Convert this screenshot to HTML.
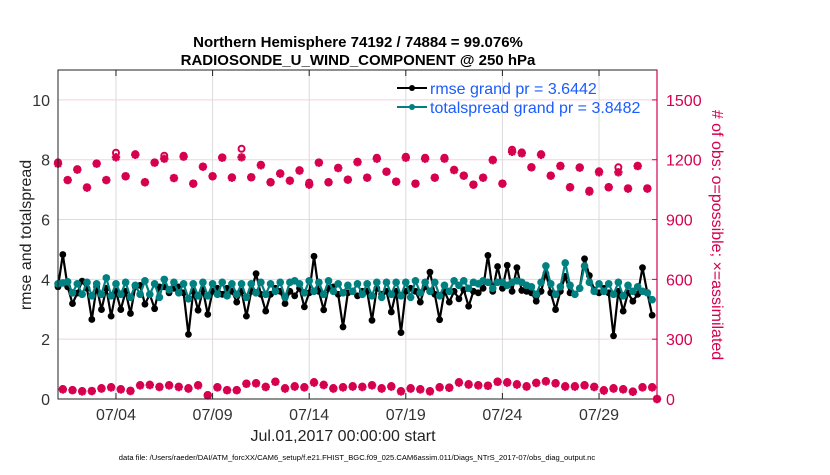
<!DOCTYPE html>
<html><head><meta charset="utf-8"><style>
body{margin:0;background:#fff;width:830px;height:470px;overflow:hidden;font-family:"Liberation Sans",sans-serif}
svg text{font-family:"Liberation Sans",sans-serif}
</style></head><body>
<svg id="chart" width="830" height="470" viewBox="0 0 830 470" xmlns="http://www.w3.org/2000/svg">
<rect x="0" y="0" width="830" height="470" fill="#fff"/>
<g id="grid"></g>
<g id="series"></g>
<rect x="58" y="70" width="599" height="329" fill="none" stroke="#222" stroke-width="1"/>
<line x1="657" y1="70" x2="657" y2="399" stroke="#d6004f" stroke-width="1.2"/>
<g id="axes"></g>
<text x="358" y="47" text-anchor="middle" font-size="15" font-weight="bold" fill="#000">Northern Hemisphere 74192 / 74884 = 99.076%</text>
<text x="358" y="65" text-anchor="middle" font-size="15" font-weight="bold" fill="#000">RADIOSONDE_U_WIND_COMPONENT @ 250 hPa</text>
<text transform="translate(31,235) rotate(-90)" text-anchor="middle" font-size="16" fill="#222">rmse and totalspread</text>
<text transform="translate(712,235) rotate(90)" text-anchor="middle" font-size="16" fill="#d6004f"># of obs: o=possible; ×=assimilated</text>
<text x="343" y="441" text-anchor="middle" font-size="16" fill="#222">Jul.01,2017 00:00:00 start</text>
<text x="357" y="460" text-anchor="middle" font-size="7.6" fill="#000">data file: /Users/raeder/DAI/ATM_forcXX/CAM6_setup/f.e21.FHIST_BGC.f09_025.CAM6assim.011/Diags_NTrS_2017-07/obs_diag_output.nc</text>
<g id="legend">
<line x1="397" y1="88" x2="427" y2="88" stroke="#000" stroke-width="2"/><circle cx="412" cy="88" r="3" fill="#000"/>
<text x="430" y="94" font-size="16" fill="#1a5cff">rmse grand pr = 3.6442</text>
<line x1="397" y1="107" x2="427" y2="107" stroke="#008080" stroke-width="2"/><circle cx="412" cy="107" r="3" fill="#008080"/>
<text x="430" y="113" font-size="16" fill="#1a5cff">totalspread grand pr = 3.8482</text>
</g>
</svg>
<script>
const rmse=[3.75,4.83,3.75,3.19,3.54,3.94,3.7,2.66,3.75,2.99,3.7,2.77,3.6,2.99,3.6,2.86,3.75,3.8,3.17,3.5,3.02,3.75,3.75,3.55,3.7,3.75,3.55,2.16,3.6,2.97,3.65,2.83,
3.6,3.7,3.5,3.7,3.6,3.24,3.6,2.77,3.6,4.19,3.5,2.94,3.5,3.7,3.6,3.19,3.6,3.45,3.7,3.08,3.55,4.77,3.6,2.98,3.7,3.75,3.5,2.41,3.55,3.6,3.45,3.6,
3.6,2.63,3.7,3.5,3.6,2.91,3.6,2.22,3.6,3.7,3.6,3.24,3.75,4.24,3.5,2.65,3.6,3.24,3.6,3.35,3.65,3.1,3.6,3.55,3.7,4.8,3.6,4.43,3.7,4.47,3.6,4.39,
3.63,3.6,3.55,3.27,3.6,4.2,3.55,2.99,3.6,4.1,3.55,3.5,3.7,4.69,4.13,3.65,3.55,3.7,3.55,2.11,3.6,2.94,3.55,3.27,3.5,4.39,3.55,2.8];
const spread=[3.85,3.88,3.92,3.55,3.85,3.5,3.9,3.45,3.85,3.5,4.05,3.45,3.85,3.5,3.9,3.4,3.8,3.5,3.95,3.5,3.85,3.4,4.0,3.65,3.9,3.55,3.85,3.35,3.85,3.45,3.9,3.45,
3.85,3.5,3.9,3.45,3.85,3.5,3.85,3.4,3.85,3.55,3.9,3.5,3.85,3.6,3.9,3.4,3.9,3.95,3.85,3.55,3.95,3.6,3.9,3.5,3.95,3.6,3.85,3.55,3.8,3.6,3.85,3.5,
3.85,3.45,3.9,3.4,3.9,3.5,3.9,3.45,3.9,3.4,3.95,3.55,3.9,3.6,3.9,3.45,3.8,3.6,3.95,3.8,3.95,3.7,3.9,3.85,3.95,3.9,3.7,3.9,3.9,3.8,3.9,3.95,
3.9,3.8,3.75,3.5,3.9,4.45,3.85,3.5,3.75,4.55,3.8,3.5,3.7,4.45,3.9,3.6,3.85,3.6,3.85,3.5,3.9,3.45,3.8,3.6,3.75,3.6,3.55,3.32];
const possibleSynoptic=[1187,1098,1153,1062,1182,1098,1235,1117,1228,1087,1187,1220,1108,1220,1080,1165,1117,1212,1112,1255,1112,1175,1087,1132,1095,1148,1085,1187,1087,1160,1100,1190,1110,1210,1140,1090,1215,1080,1210,1110,1210,1150,1120,1075,1110,1200,1080,1250,1237,1162,1228,1120,1170,1062,1162,1045,1142,1062,1162,1057,1170,1057,0];
const possibleOff=[50,45,40,40,55,60,50,42,70,72,62,70,62,55,70,20,60,45,45,78,80,62,88,55,65,60,85,72,55,60,65,62,70,55,65,40,55,50,40,60,58,85,75,70,68,88,85,75,65,82,90,80,65,65,70,62,45,55,50,38,60,60];
const assimSynoptic=[1180,1098,1150,1060,1180,1098,1212,1117,1225,1087,1185,1205,1108,1215,1080,1165,1117,1210,1110,1212,1112,1172,1087,1130,1095,1145,1075,1185,1087,1158,1100,1188,1110,1205,1140,1090,1210,1080,1205,1110,1205,1148,1120,1075,1110,1198,1080,1240,1232,1162,1225,1120,1168,1062,1160,1040,1137,1062,1137,1055,1168,1055,0];
const assimOff=[48,44,38,40,52,58,48,40,68,70,60,68,60,52,68,18,58,44,44,76,78,60,86,52,62,58,82,70,52,58,62,60,68,52,62,38,52,48,38,58,56,82,72,68,66,86,82,72,62,80,88,78,62,62,68,60,42,52,48,36,58,58];
const dateTicks=["07/04","07/09","07/14","07/19","07/24","07/29"];
const leftTicks=[0,2,4,6,8,10];
const rightTicks=[0,300,600,900,1200,1500];

const NS="http://www.w3.org/2000/svg";
const X=t=>58+t*599/31;
const YL=v=>399-v*329/11;
const YR=c=>399-c*329/1650;
function mk(tag,attrs,parent){const e=document.createElementNS(NS,tag);for(const k in attrs)e.setAttribute(k,attrs[k]);parent.appendChild(e);return e;}
const grid=document.getElementById('grid'),series=document.getElementById('series'),axes=document.getElementById('axes');

leftTicks.forEach(v=>{
  if(v>0){const g=mk('line',{x1:58,x2:657,y1:YL(v),y2:YL(v),stroke:'#f0d3df','stroke-width':1},grid);
  
  }
  const t=mk('text',{x:50,y:YL(v)+6,'text-anchor':'end','font-size':16,fill:'#333'},axes);t.textContent=v;
  
  
});
rightTicks.forEach(c=>{
  const t=mk('text',{x:666,y:YR(c)+6,'font-size':16,fill:'#d6004f'},axes);t.textContent=c;
  
  
  mk('line',{x1:652,x2:657,y1:YR(c),y2:YR(c),stroke:'#d6004f'},axes);
});
dateTicks.forEach((d,i)=>{
  const x=X(3+5*i);
  const g=mk('line',{x1:x,x2:x,y1:70,y2:399,stroke:'#dcdcdc','stroke-width':1},grid);
  
  
  mk('line',{x1:x,x2:x,y1:393,y2:399,stroke:'#222'},axes);
  mk('line',{x1:x,x2:x,y1:70,y2:76,stroke:'#222'},axes);
  const t=mk('text',{x:x,y:420,'text-anchor':'middle','font-size':16,fill:'#333'},axes);t.textContent=d;
  
  
});

function countSeries(syn,off){const out=[];for(let k=0;k<syn.length;k++){out.push(syn[k]);if(k<off.length)out.push(off[k]);}return out;}
const poss=countSeries(possibleSynoptic,possibleOff),assim=countSeries(assimSynoptic,assimOff);
const pc='#d6004f';
assim.forEach((c,i)=>{
  const x=X(i*0.25),y=YR(c),r=4.2;
  const g=mk('path',{d:`M${x-r},${y}H${x+r}M${x},${y-r}V${y+r}M${x-3},${y-3}L${x+3},${y+3}M${x-3},${y+3}L${x+3},${y-3}`,stroke:pc,'stroke-width':2.4,fill:'none'},series);
  
  
});
poss.forEach((c,i)=>{
  const m=mk('circle',{cx:X(i*0.25),cy:YR(c),r:3,fill:'none',stroke:pc,'stroke-width':2},series);
  
  
});

function line(vals,color,name,r){
  const pts=vals.map((v,i)=>X(i*0.25).toFixed(2)+','+YL(v).toFixed(2)).join(' ');
  const p=mk('polyline',{points:pts,fill:'none',stroke:color,'stroke-width':2.2,'stroke-linejoin':'round'},series);
  
  
  vals.forEach((v,i)=>{
    const c=mk('circle',{cx:X(i*0.25),cy:YL(v),r:r,fill:color},series);
    
    
  });
}
line(rmse,'#000','rmse',3.4);
line(spread,'#008080','totalspread',3.8);
</script>
</body></html>
